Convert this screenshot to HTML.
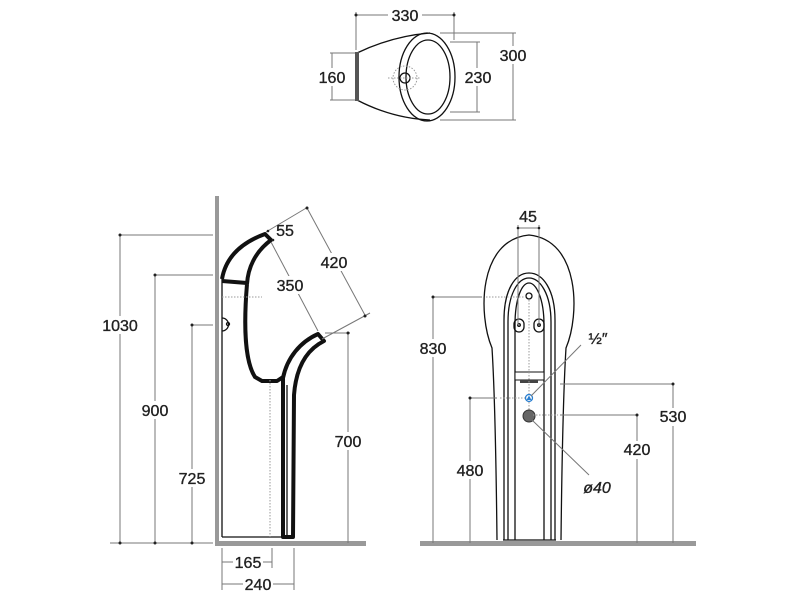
<!DOCTYPE html>
<html><head><meta charset="utf-8"><style>
html,body{margin:0;padding:0;background:#fff;width:800px;height:600px;overflow:hidden}
svg{display:block}
text{font-family:"Liberation Sans",sans-serif;font-size:16px;fill:#222;text-anchor:middle;stroke:#222;stroke-width:0.35}
.d{stroke:#777;stroke-width:1;fill:none}
.t{stroke:#111;stroke-width:4;fill:none;stroke-linejoin:round}
.m{stroke:#111;stroke-width:1.3;fill:none}
.dot{stroke:#999;stroke-width:1;stroke-dasharray:1.5 1.5;fill:none}
.bg{fill:#fff}
</style></head><body>
<svg width="800" height="600" viewBox="0 0 800 600">
<!-- TOP VIEW -->
<g>
<line class="d" x1="356" y1="15" x2="454" y2="15"/>
<line class="d" x1="356" y1="12" x2="356" y2="50"/>
<line class="d" x1="454" y1="12" x2="454" y2="40"/>
<rect class="bg" x="388" y="6" width="34" height="16"/>
<text x="405" y="21">330</text>
<circle cx="356" cy="15" r="1.5" fill="#222"/><circle cx="454" cy="15" r="1.5" fill="#222"/>
<line class="d" x1="332" y1="53" x2="332" y2="100"/>
<line class="d" x1="330" y1="53" x2="356" y2="53"/><line class="d" x1="330" y1="100" x2="356" y2="100"/>
<rect class="bg" x="318" y="68" width="30" height="18"/>
<text x="332" y="83">160</text>
<path class="m" d="M357,53 C380,42 405,35 430,33" stroke-width="2.5"/>
<path class="m" d="M357,100 C380,112 405,119 430,120" stroke-width="2.5"/>
<rect x="355" y="52" width="4" height="49" fill="#555"/>
<ellipse class="m" cx="427" cy="77" rx="28" ry="44" stroke-width="3"/>
<ellipse class="m" cx="428" cy="77" rx="22" ry="37" stroke-width="2"/>
<circle class="m" cx="405" cy="78" r="5"/>
<circle class="dot" cx="405" cy="78" r="12"/>
<line class="dot" x1="388" y1="78" x2="420" y2="78"/>
<line class="d" x1="450" y1="42" x2="480" y2="42"/><line class="d" x1="450" y1="112" x2="480" y2="112"/>
<line class="d" x1="477" y1="42" x2="477" y2="112"/>
<line class="d" x1="440" y1="33" x2="516" y2="33"/><line class="d" x1="440" y1="120" x2="516" y2="120"/>
<line class="d" x1="513" y1="33" x2="513" y2="120"/>
<rect class="bg" x="462" y="68" width="32" height="18"/><text x="478" y="83">230</text>
<rect class="bg" x="498" y="46" width="32" height="18"/><text x="513" y="61">300</text>
</g>

<!-- SIDE VIEW -->
<g>
<rect x="215" y="196" width="4" height="350" fill="#999"/>
<rect x="215" y="541" width="151" height="5" fill="#999"/>
<line class="d" x1="120" y1="235" x2="213" y2="235"/>
<line class="d" x1="155" y1="275" x2="213" y2="275"/>
<line class="d" x1="192" y1="325" x2="213" y2="325"/>
<line class="d" x1="120" y1="235" x2="120" y2="543"/>
<line class="d" x1="155" y1="275" x2="155" y2="543"/>
<line class="d" x1="192" y1="325" x2="192" y2="543"/>
<line class="d" x1="110" y1="543" x2="213" y2="543"/>
<circle cx="120" cy="235" r="1.5" fill="#222"/><circle cx="155" cy="275" r="1.5" fill="#222"/><circle cx="192" cy="325" r="1.5" fill="#222"/>
<circle cx="120" cy="543" r="1.5" fill="#222"/><circle cx="155" cy="543" r="1.5" fill="#222"/><circle cx="192" cy="543" r="1.5" fill="#222"/>
<rect class="bg" x="102" y="316" width="36" height="18"/><text x="120" y="331">1030</text>
<rect class="bg" x="140" y="401" width="30" height="18"/><text x="155" y="416">900</text>
<rect class="bg" x="177" y="469" width="30" height="18"/><text x="192" y="484">725</text>
<line class="m" x1="222" y1="278" x2="222" y2="537"/>
<line class="m" x1="222" y1="537" x2="294" y2="537"/>
<path class="t" d="M222,279 C226,256 243,242 265,234 L271,240 C255,252 248,268 247,284"/>
<line class="t" x1="222" y1="281" x2="247" y2="283"/>
<path class="t" d="M247,284 C244,320 244,360 255,377 L262,381 L277,381 L283,377" stroke-width="3"/>
<path class="t" d="M283,378 C287,358 300,342 318,334 L324,341 C306,350 296,368 294,395 L293,537 L283,537 Z" stroke-width="3.5"/>
<line class="m" x1="287" y1="385" x2="287" y2="535" stroke-width="1"/>
<path class="m" d="M222,318 a6,6 0 0 1 0,13" /><circle cx="228" cy="324" r="1.5" class="m" stroke-width="1"/>
<line class="dot" x1="222" y1="297" x2="262" y2="297"/>
<line class="dot" x1="270" y1="380" x2="270" y2="537"/>
<line class="d" x1="325" y1="333" x2="350" y2="333"/>
<line class="d" x1="348" y1="333" x2="348" y2="543"/>
<circle cx="348" cy="333" r="1.5" fill="#222"/>
<rect class="bg" x="334" y="432" width="30" height="18"/><text x="348" y="447">700</text>
<line class="d" x1="271" y1="242" x2="318" y2="331"/>
<line class="d" x1="307" y1="208" x2="366" y2="317"/>
<line class="d" x1="266" y1="232" x2="308" y2="207"/>
<line class="d" x1="322" y1="339" x2="370" y2="313"/>
<circle cx="307" cy="208" r="1.5" fill="#222"/><circle cx="365" cy="316" r="1.5" fill="#222"/>
<circle cx="268" cy="231" r="1.3" fill="#222"/><circle cx="273" cy="240" r="1.3" fill="#222"/>
<rect class="bg" x="274" y="276" width="32" height="18"/><text x="290" y="291">350</text>
<rect class="bg" x="318" y="253" width="32" height="18"/><text x="334" y="268">420</text>
<text x="285" y="236">55</text>
<line class="d" x1="222" y1="548" x2="222" y2="590"/>
<line class="d" x1="272" y1="548" x2="272" y2="568"/>
<line class="d" x1="294" y1="548" x2="294" y2="590"/>
<line class="d" x1="222" y1="562" x2="272" y2="562"/>
<line class="d" x1="222" y1="584" x2="294" y2="584"/>
<rect class="bg" x="233" y="554" width="30" height="17"/><text x="248" y="568">165</text>
<rect class="bg" x="243" y="576" width="30" height="17"/><text x="258" y="590">240</text>
</g>

<!-- FRONT VIEW -->
<g>
<rect x="420" y="541" width="276" height="5" fill="#999"/>
<path class="m" d="M497,540 C496,450 494,380 492,348 C478,315 478,240 529,235 C580,240 580,315 566,348 C564,380 562,450 561,540"/>
<path class="m" d="M504,540 L504,320 C504,290 515,273 529,273 C543,273 555,290 555,320 L555,540" stroke-width="2.6"/>
<path class="m" d="M508,540 L508,322 C508,294 518,278 529,278 C540,278 551,294 551,322 L551,540" stroke-width="1"/>
<path class="m" d="M515,540 L515,325 C515,298 522,283 529,283 C536,283 544,298 544,325 L544,540" stroke-width="2.2"/>
<line class="m" x1="503" y1="540" x2="556" y2="540"/>
<rect x="515" y="372" width="29" height="8" fill="#fff" stroke="#111" stroke-width="1"/>
<rect x="520" y="380" width="18" height="3" fill="#444"/>
<circle class="m" cx="529" cy="296" r="3" stroke-width="1"/>
<rect class="m" x="514" y="319" width="10" height="13" rx="5" stroke-width="1"/><circle cx="519" cy="325" r="1.3" class="m" stroke-width="1"/>
<rect class="m" x="534" y="319" width="10" height="13" rx="5" stroke-width="1"/><circle cx="539" cy="325" r="1.3" class="m" stroke-width="1"/>
<line class="dot" x1="529" y1="300" x2="529" y2="420"/>
<circle cx="529" cy="398" r="3.5" fill="#fff" stroke="#2a7fd0" stroke-width="1.3"/>
<path d="M526.5,400 L529,395.5 L531.5,400 Z" fill="#2a7fd0"/>
<circle cx="529" cy="416" r="6" fill="#666" stroke="#333"/>
<line class="d" x1="518" y1="225" x2="518" y2="325"/><line class="d" x1="539" y1="225" x2="539" y2="325"/>
<line class="d" x1="518" y1="228" x2="539" y2="228"/>
<circle cx="518" cy="228" r="1.3" fill="#222"/><circle cx="539" cy="228" r="1.3" fill="#222"/>
<text x="528" y="222">45</text>
<line class="d" x1="433" y1="297" x2="482" y2="297"/><line class="dot" x1="486" y1="297" x2="526" y2="297"/>
<line class="d" x1="433" y1="297" x2="433" y2="543"/>
<line class="d" x1="470" y1="398" x2="497" y2="398"/><line class="dot" x1="500" y1="398" x2="525" y2="398"/>
<line class="d" x1="470" y1="398" x2="470" y2="543"/>
<circle cx="433" cy="297" r="1.5" fill="#222"/><circle cx="470" cy="398" r="1.5" fill="#222"/>
<rect class="bg" x="418" y="339" width="30" height="18"/><text x="433" y="354">830</text>
<rect class="bg" x="455" y="461" width="30" height="18"/><text x="470" y="476">480</text>
<line class="d" x1="560" y1="384" x2="673" y2="384"/><line class="d" x1="673" y1="384" x2="673" y2="543"/>
<line class="d" x1="560" y1="415" x2="637" y2="415"/><line class="d" x1="637" y1="415" x2="637" y2="543"/>
<line class="dot" x1="533" y1="415" x2="558" y2="415"/>
<circle cx="673" cy="384" r="1.5" fill="#222"/><circle cx="637" cy="415" r="1.5" fill="#222"/>
<rect class="bg" x="657" y="408" width="32" height="18"/><text x="673" y="422">530</text>
<rect class="bg" x="621" y="441" width="32" height="18"/><text x="637" y="455">420</text>
<line class="d" x1="581" y1="345" x2="531" y2="396"/>
<line class="d" x1="532" y1="420" x2="589" y2="475"/>
<text x="598" y="344">½″</text>
<text x="597" y="493" style="font-style:italic">ø40</text>
</g>
</svg>
</body></html>
